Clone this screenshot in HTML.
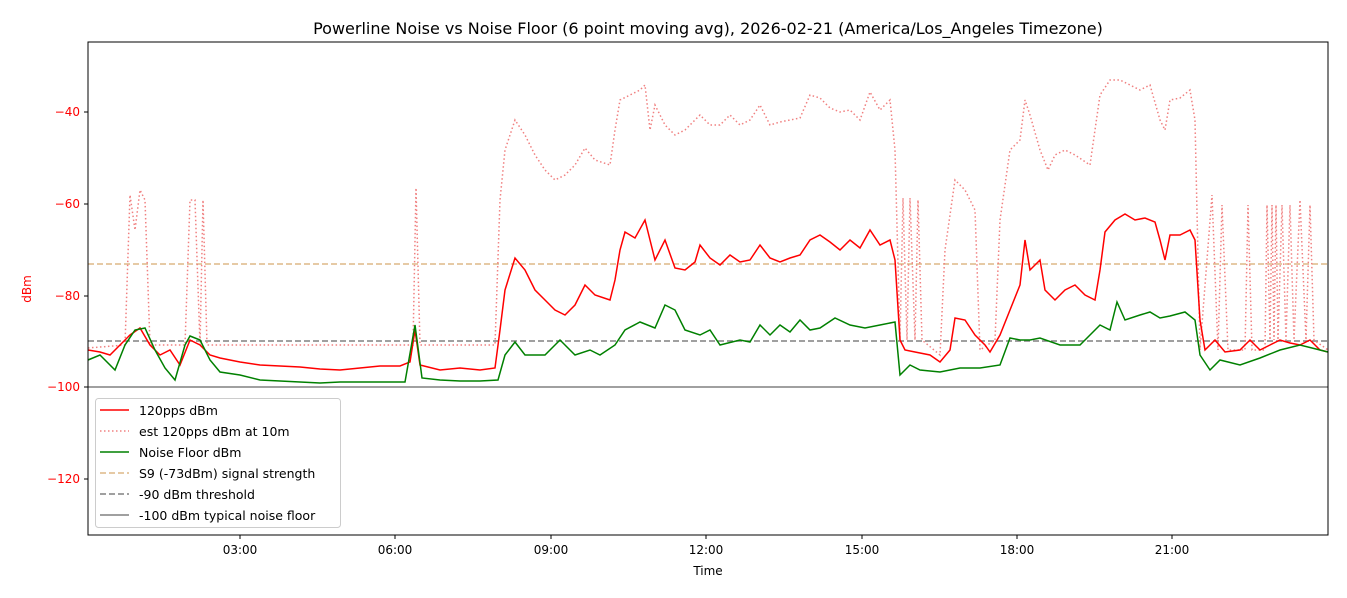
<!DOCTYPE html>
<html><head><meta charset="utf-8"><style>body{margin:0;background:#fff}svg{display:block;font-family:"DejaVu Sans","Liberation Sans",sans-serif}</style></head>
<body>
<svg width="1347" height="598" xmlns="http://www.w3.org/2000/svg">
<rect width="1347" height="598" fill="#fff"/>
<text x="708" y="34" font-size="16" text-anchor="middle">Powerline Noise vs Noise Floor (6 point moving avg), 2026-02-21 (America/Los_Angeles Timezone)</text>
<defs><clipPath id="c"><rect x="88" y="42" width="1240" height="493"/></clipPath></defs>
<g clip-path="url(#c)">
<line x1="88" x2="1328" y1="264" y2="264" stroke="#deb887" stroke-width="1.5" stroke-dasharray="6,3"/>
<line x1="88" x2="1328" y1="341" y2="341" stroke="#808080" stroke-width="1.5" stroke-dasharray="6,3"/>
<line x1="88" x2="1328" y1="387" y2="387" stroke="#808080" stroke-width="1.5"/>
<polyline fill="none" stroke="#f08080" stroke-width="1.5" stroke-dasharray="1.5,2.5" points="88,348 125,345 130,195 135,230 140,190 145,200 150,345 185,345 190,200 195,200 200,345 203,200 207,345 413,345 416,188 420,345 495,345 500,200 505,150 515,120 525,135 535,155 545,170 555,180 565,175 575,165 585,148 595,160 610,165 615,130 620,100 630,95 640,90 645,85 650,130 655,105 665,125 675,135 685,130 700,115 710,125 720,125 730,115 740,125 750,120 760,105 770,125 780,122 800,118 810,95 820,98 830,108 840,112 850,110 860,120 870,92 880,110 890,100 895,150 900,340 903,198 907,340 910,198 915,340 918,200 922,340 940,355 945,250 955,180 965,190 975,210 980,350 995,340 1000,220 1010,150 1020,140 1025,100 1030,115 1040,150 1048,170 1055,155 1065,150 1075,155 1090,165 1100,95 1110,80 1120,80 1130,85 1140,90 1150,85 1160,120 1165,130 1170,100 1180,98 1190,90 1195,120 1200,350 1212,195 1218,350 1222,205 1228,350 1245,350 1248,205 1252,350 1265,350 1267,205 1270,340 1272,205 1274,340 1276,205 1278,340 1282,205 1286,340 1290,205 1294,340 1300,200 1306,340 1310,205 1314,340 1328,350"/>
<polyline fill="none" stroke="#ff0000" stroke-width="1.5" points="88,350 100,352 110,355 120,345 130,335 140,328 150,345 160,355 170,350 180,365 190,340 200,345 210,355 220,358 240,362 260,365 280,366 300,367 320,369 340,370 360,368 380,366 400,366 410,362 415,330 420,365 440,370 460,368 480,370 495,368 500,330 505,290 515,258 525,270 535,290 545,300 555,310 565,315 575,305 585,285 595,295 610,300 615,280 620,250 625,232 635,238 645,220 650,240 655,260 665,240 675,268 685,270 695,262 700,245 710,258 720,265 730,255 740,262 750,260 760,245 770,258 780,262 790,258 800,255 810,240 820,235 830,242 840,250 850,240 860,248 870,230 880,245 890,240 895,260 900,340 905,350 915,352 930,355 940,362 950,350 955,318 965,320 975,335 985,345 990,352 1000,335 1010,310 1020,285 1025,240 1030,270 1040,260 1045,290 1055,300 1065,290 1075,285 1085,295 1095,300 1100,270 1105,232 1115,220 1125,214 1135,220 1145,218 1155,222 1160,240 1165,260 1170,235 1180,235 1190,230 1195,240 1200,320 1205,350 1215,340 1225,352 1240,350 1250,340 1260,350 1270,345 1280,340 1290,343 1300,345 1310,340 1320,350 1328,352"/>
<polyline fill="none" stroke="#008000" stroke-width="1.5" points="88,360 100,355 115,370 125,345 135,330 145,328 155,350 165,368 175,380 185,345 190,336 200,340 210,360 220,372 240,375 260,380 280,381 300,382 320,383 340,382 360,382 380,382 405,382 415,325 422,378 440,380 460,381 480,381 498,380 505,355 515,342 525,355 545,355 560,340 575,355 590,350 600,355 615,345 625,330 640,322 655,328 665,305 675,310 685,330 700,335 710,330 720,345 740,340 750,342 760,325 770,335 780,325 790,332 800,320 810,330 820,328 835,318 850,325 865,328 880,325 895,322 900,375 910,365 920,370 940,372 960,368 980,368 1000,365 1010,338 1020,340 1030,340 1040,338 1060,345 1080,345 1100,325 1110,330 1117,302 1125,320 1140,315 1150,312 1160,318 1170,316 1185,312 1195,320 1200,355 1210,370 1220,360 1240,365 1260,358 1280,350 1300,345 1320,350 1328,352"/>
</g>
<rect x="88" y="42" width="1240" height="493" fill="none" stroke="#000" stroke-width="1"/>
<g font-size="12" fill="#ff0000" text-anchor="end">
<line x1="84" x2="88" y1="112" y2="112" stroke="#000"/><text x="80" y="116">−40</text>
<line x1="84" x2="88" y1="204" y2="204" stroke="#000"/><text x="80" y="208">−60</text>
<line x1="84" x2="88" y1="296" y2="296" stroke="#000"/><text x="80" y="300">−80</text>
<line x1="84" x2="88" y1="387" y2="387" stroke="#000"/><text x="80" y="391">−100</text>
<line x1="84" x2="88" y1="479" y2="479" stroke="#000"/><text x="80" y="483">−120</text>
</g>
<text x="31" y="289" font-size="12" fill="#ff0000" text-anchor="middle" transform="rotate(-90 31 289)">dBm</text>
<g font-size="12" text-anchor="middle">
<line x1="240" x2="240" y1="535" y2="539" stroke="#000"/><text x="240" y="554">03:00</text>
<line x1="395" x2="395" y1="535" y2="539" stroke="#000"/><text x="395" y="554">06:00</text>
<line x1="551" x2="551" y1="535" y2="539" stroke="#000"/><text x="551" y="554">09:00</text>
<line x1="706" x2="706" y1="535" y2="539" stroke="#000"/><text x="706" y="554">12:00</text>
<line x1="862" x2="862" y1="535" y2="539" stroke="#000"/><text x="862" y="554">15:00</text>
<line x1="1017" x2="1017" y1="535" y2="539" stroke="#000"/><text x="1017" y="554">18:00</text>
<line x1="1172" x2="1172" y1="535" y2="539" stroke="#000"/><text x="1172" y="554">21:00</text>
<text x="708" y="575">Time</text>
</g>
<rect x="95.5" y="398.5" width="245" height="129" rx="3" fill="#fff" fill-opacity="0.8" stroke="#ccc"/>
<g font-size="12.5">
<line x1="100" x2="129" y1="410" y2="410" stroke="#ff0000" stroke-width="1.5"/><text x="139" y="415">120pps dBm</text>
<line x1="100" x2="129" y1="431" y2="431" stroke="#f08080" stroke-width="1.5" stroke-dasharray="1.5,2.5"/><text x="139" y="436">est 120pps dBm at 10m</text>
<line x1="100" x2="129" y1="452" y2="452" stroke="#008000" stroke-width="1.5"/><text x="139" y="457">Noise Floor dBm</text>
<line x1="100" x2="129" y1="473" y2="473" stroke="#deb887" stroke-width="1.5" stroke-dasharray="6,3"/><text x="139" y="478">S9 (-73dBm) signal strength</text>
<line x1="100" x2="129" y1="494" y2="494" stroke="#808080" stroke-width="1.5" stroke-dasharray="6,3"/><text x="139" y="499">-90 dBm threshold</text>
<line x1="100" x2="129" y1="515" y2="515" stroke="#808080" stroke-width="1.5"/><text x="139" y="520">-100 dBm typical noise floor</text>
</g>
</svg>
</body></html>
